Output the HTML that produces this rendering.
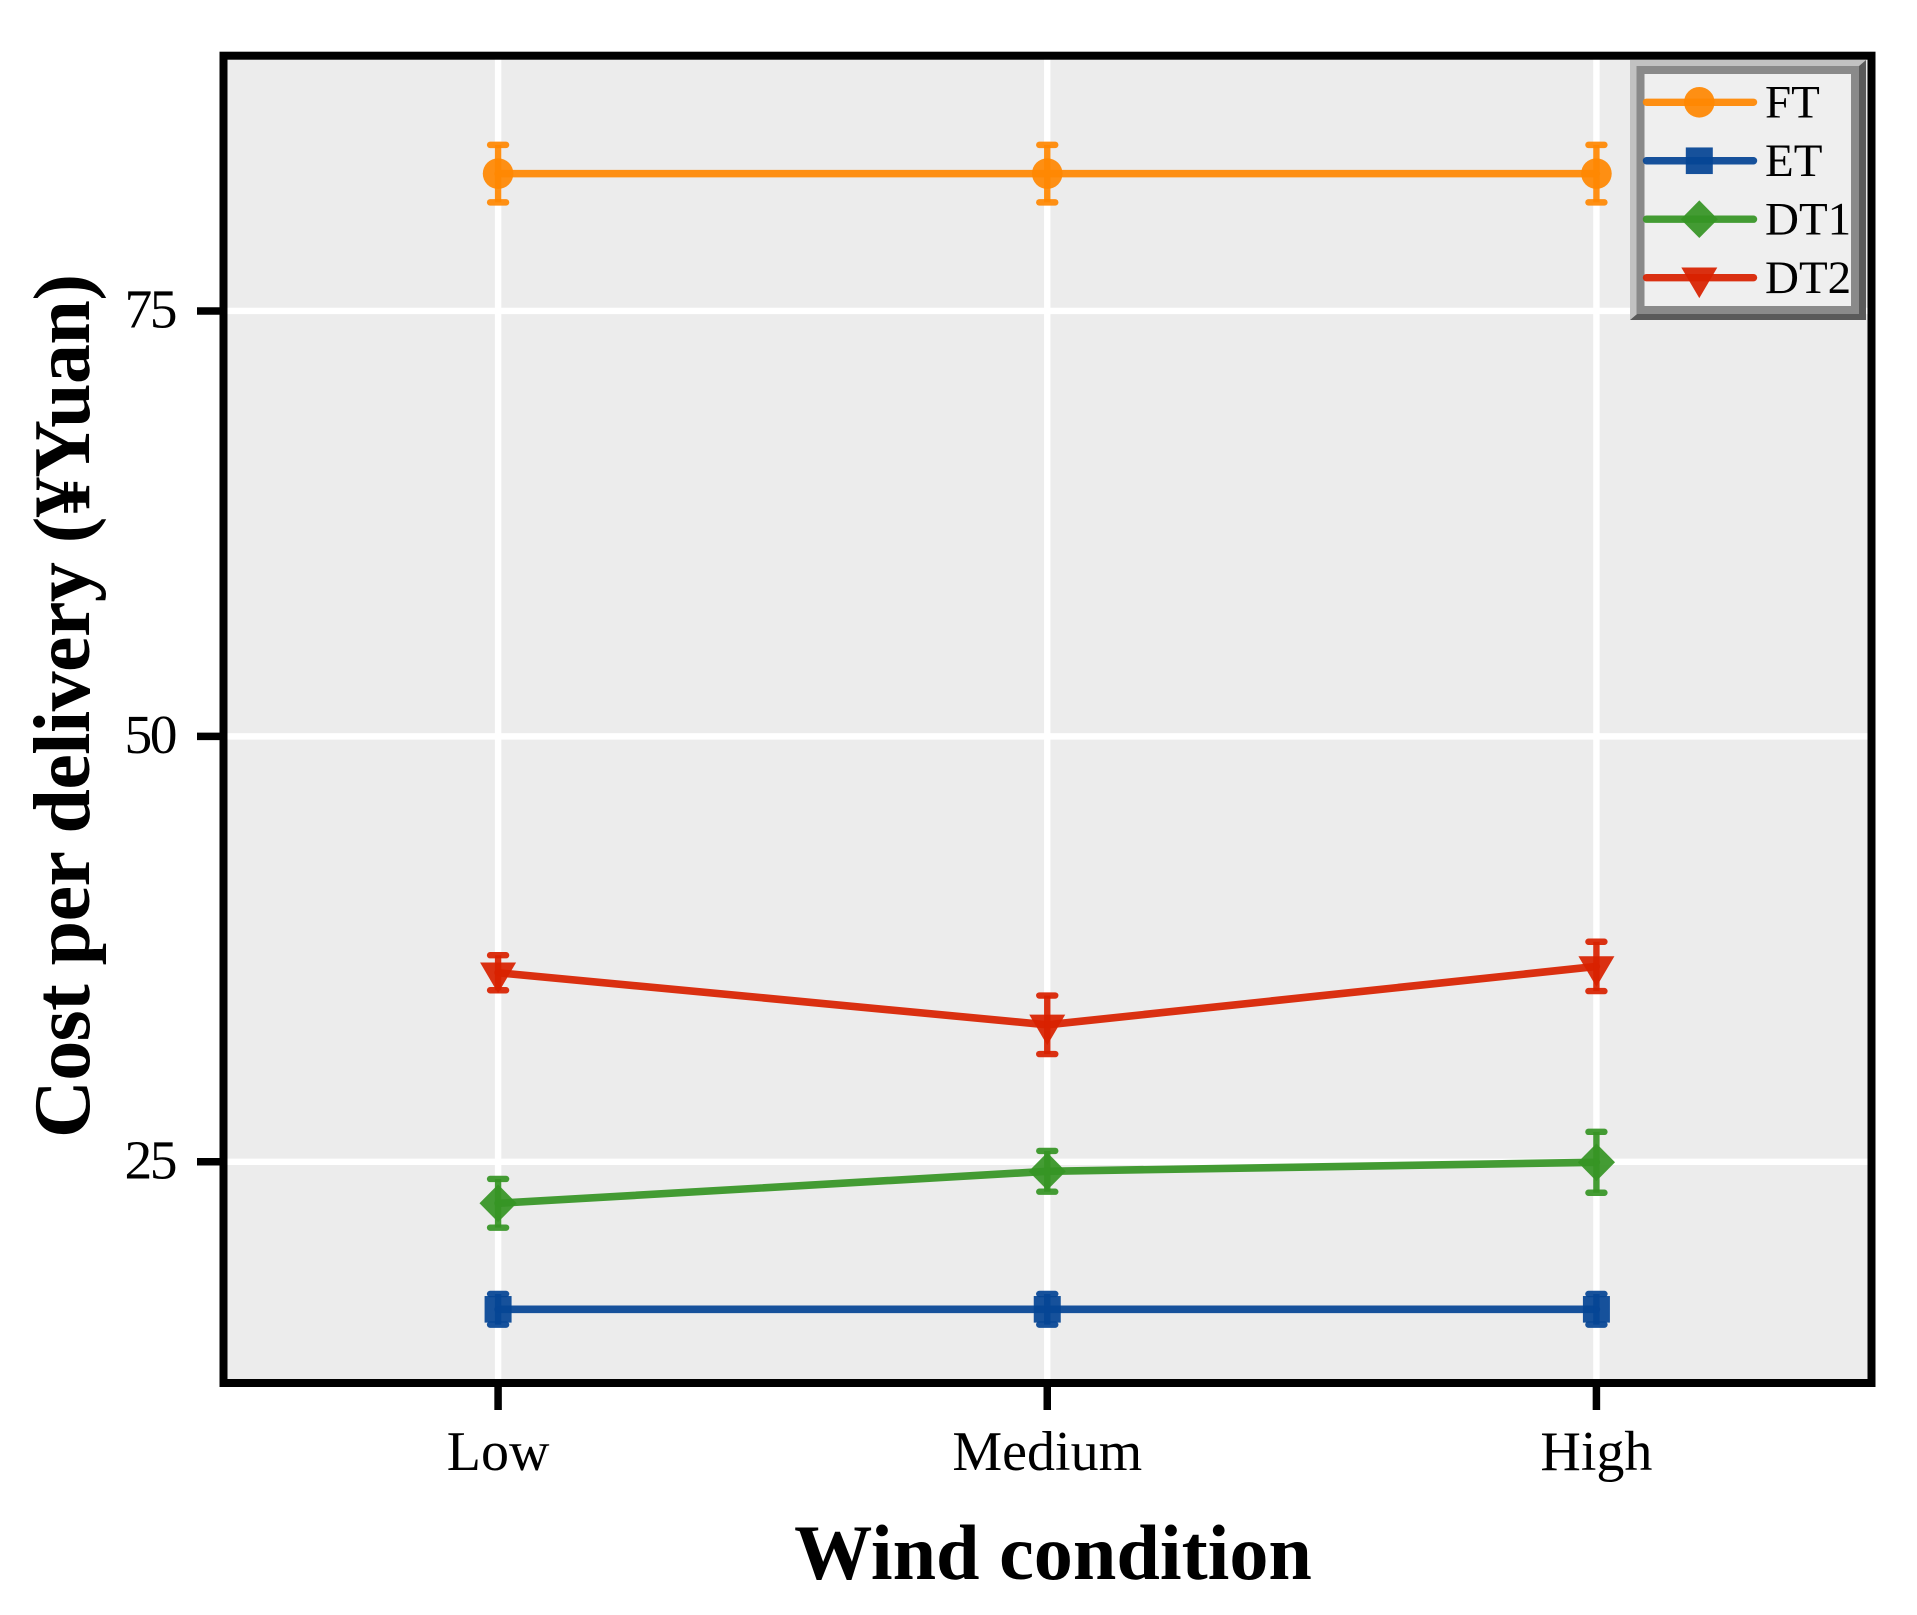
<!DOCTYPE html>
<html lang="en">
<head>
<meta charset="utf-8">
<title>Cost per delivery by wind condition</title>
<style>
  html, body { margin: 0; padding: 0; background: #ffffff; }
  #chart { display: block; width: 1917px; height: 1615px; font-family: "Liberation Serif", "Noto Serif CJK SC", serif; }
</style>
</head>
<body>
<svg id="chart" xmlns="http://www.w3.org/2000/svg" width="1917" height="1615" viewBox="0 0 1917 1615">
  <rect x="0" y="0" width="1917" height="1615" fill="#ffffff"/>
  <rect x="223.5" y="55.7" width="1647.5" height="1327.3" fill="#ececec"/>
  <g id="grid"></g>
  <g id="series"></g>
  <g id="ticks"></g>
  <rect x="223.5" y="55.7" width="1648" height="1327.3" fill="none" stroke="#000000" stroke-width="8"/>
  <text x="1053" y="1579" text-anchor="middle" font-size="78.2" font-weight="bold" fill="#000000">Wind condition</text>
  <text transform="translate(89 706) rotate(-90)" text-anchor="middle" font-size="80" font-weight="bold" fill="#000000" textLength="864" lengthAdjust="spacing">Cost per delivery (¥Yuan)</text>
  <g id="legend">
    <polygon points="1630,60 1866,60 1859,66 1637,66 1637,314 1630,320" fill="#c2c2c2"/>
    <polygon points="1866,60 1866,320 1630,320 1637,314 1859,314 1859,66" fill="#5a5a5a"/>
    <rect x="1640.5" y="70" width="214.5" height="240" fill="#efefef" stroke="#8a8a8a" stroke-width="8"/>
  </g>
</svg>
<script>
const categories = ["Low", "Medium", "High"];
const yTickValues = [25, 50, 75];
const seriesNames = ["FT", "ET", "DT1", "DT2"];
const ftValues = [83.07, 83.07, 83.07];
const ftErrors = [1.69, 1.69, 1.69];
const etValues = [16.33, 16.33, 16.33];
const etErrors = [0.9, 0.9, 0.9];
const dt1Values = [22.56, 24.44, 24.97];
const dt1Errors = [1.43, 1.2, 1.79];
const dt2Values = [36.11, 33.05, 36.48];
const dt2Errors = [1.03, 1.72, 1.45];

const SVG_NS = "http://www.w3.org/2000/svg";
const xDomainMin = -0.5, xDomainMax = 2.5, yDomainMin = 12, yDomainMax = 90;
const plotLeft = 223.5, plotRight = 1871, plotTop = 55.7, plotBottom = 1383;

function xScale(i) {
  return plotLeft + (i - xDomainMin) / (xDomainMax - xDomainMin) * (plotRight - plotLeft);
}
function yScale(v) {
  return plotBottom - (v - yDomainMin) / (yDomainMax - yDomainMin) * (plotBottom - plotTop);
}
function mk(tag, attrs, parent) {
  const el = document.createElementNS(SVG_NS, tag);
  for (const k in attrs) el.setAttribute(k, attrs[k]);
  parent.appendChild(el);
  return el;
}
function drawMarker(shape, cx, cy, color, parent) {
  let el;
  if (shape === "circle") {
    el = mk("circle", { cx: cx, cy: cy, r: 15.3, fill: color, "fill-opacity": 0.93 }, parent);
  } else if (shape === "square") {
    el = mk("rect", { x: cx - 13.5, y: cy - 13.3, width: 27, height: 26.6, fill: color, "fill-opacity": 0.93 }, parent);
  } else if (shape === "diamond") {
    el = mk("polygon", { points: [cx, cy - 18.8, cx + 18.6, cy, cx, cy + 18.8, cx - 18.6, cy].join(","), fill: color, "fill-opacity": 0.93 }, parent);
  } else {
    el = mk("polygon", { points: [cx - 18, cy - 10.2, cx + 18, cy - 10.2, cx, cy + 20.5].join(","), fill: color, "fill-opacity": 0.93 }, parent);
  }
  return el;
}

const gridLayer = document.getElementById("grid");
const tickLayer = document.getElementById("ticks");
const seriesLayer = document.getElementById("series");
const legendLayer = document.getElementById("legend");

categories.forEach(function (name, i) {
  const x = xScale(i);
  const grid = mk("line", { x1: x, x2: x, y1: plotTop, y2: plotBottom, stroke: "#ffffff", "stroke-width": 6.4 }, gridLayer);
  
  
  const tick = mk("line", { x1: x, x2: x, y1: plotBottom, y2: plotBottom + 27, stroke: "#000000", "stroke-width": 7.5 }, tickLayer);
  
  
  const label = mk("text", { x: x, y: 1470, "text-anchor": "middle", "font-size": 56, fill: "#000000" }, tickLayer);
  
  
  label.textContent = name;
});

yTickValues.forEach(function (v) {
  const y = yScale(v);
  const grid = mk("line", { x1: plotLeft, x2: plotRight, y1: y, y2: y, stroke: "#ffffff", "stroke-width": 6.4 }, gridLayer);
  
  
  const tick = mk("line", { x1: plotLeft - 26.5, x2: plotLeft, y1: y, y2: y, stroke: "#000000", "stroke-width": 7.5 }, tickLayer);
  
  
  const label = mk("text", { x: 175, y: y + 16.6, "text-anchor": "end", "font-size": 55.5, "letter-spacing": -2.5, fill: "#000000" }, tickLayer);
  
  
  label.textContent = String(v);
});

const seriesList = [
  { name: seriesNames[0], values: ftValues, errors: ftErrors, color: "#ff8802", shape: "circle" },
  { name: seriesNames[1], values: etValues, errors: etErrors, color: "#054595", shape: "square" },
  { name: seriesNames[2], values: dt1Values, errors: dt1Errors, color: "#369425", shape: "diamond" },
  { name: seriesNames[3], values: dt2Values, errors: dt2Errors, color: "#d82100", shape: "triangle" }
];

seriesList.forEach(function (s, index) {
  const g = mk("g", {}, seriesLayer);
  
  

  const pts = s.values.map(function (v, i) { return xScale(i) + "," + yScale(v); }).join(" ");
  const line = mk("polyline", { points: pts, fill: "none", stroke: s.color, "stroke-opacity": 0.93, "stroke-width": 7.6, "stroke-linecap": "round", "stroke-linejoin": "round" }, g);
  
  

  s.values.forEach(function (v, i) {
    const x = xScale(i);
    const y = yScale(v);
    const marker = drawMarker(s.shape, x, y, s.color, g);
    
    

    const yHi = yScale(v + s.errors[i]);
    const yLo = yScale(v - s.errors[i]);
    const bar = mk("line", { x1: x, x2: x, y1: yHi, y2: yLo, stroke: s.color, "stroke-opacity": 0.93, "stroke-width": 6.4 }, g);
    
    
    const capTop = mk("line", { x1: x - 8, x2: x + 8, y1: yHi, y2: yHi, stroke: s.color, "stroke-opacity": 0.93, "stroke-width": 6.4, "stroke-linecap": "round" }, g);
    
    
    const capBottom = mk("line", { x1: x - 8, x2: x + 8, y1: yLo, y2: yLo, stroke: s.color, "stroke-opacity": 0.93, "stroke-width": 6.4, "stroke-linecap": "round" }, g);
    
    
  });

  const rowY = 102.3 + index * 58.45;
  const entry = mk("g", {}, legendLayer);
  
  
  const swatch = mk("line", { x1: 1646.5, x2: 1753.5, y1: rowY, y2: rowY, stroke: s.color, "stroke-opacity": 0.93, "stroke-width": 7.4, "stroke-linecap": "round" }, entry);
  
  
  const swatchMarker = drawMarker(s.shape, 1699.3, rowY, s.color, entry);
  
  
  const label = mk("text", { x: 1765, y: rowY + 15.2, "font-size": 47, fill: "#000000" }, entry);
  
  
  label.textContent = s.name;
});
</script>
</body>
</html>
